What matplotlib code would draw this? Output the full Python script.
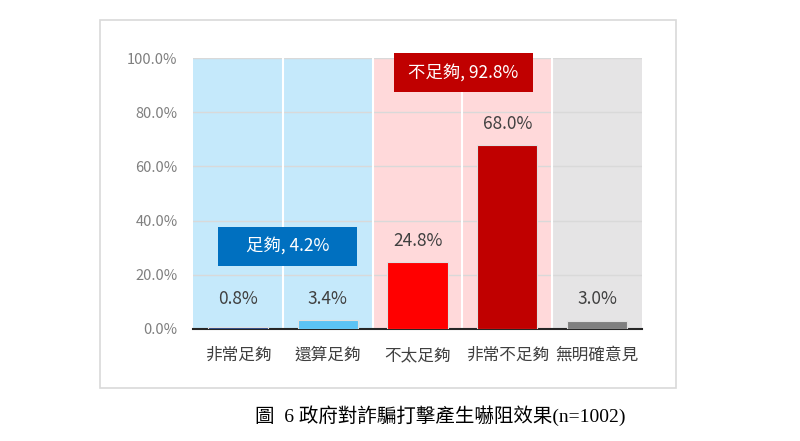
import matplotlib
matplotlib.use("Agg")
import matplotlib.pyplot as plt
from matplotlib.patches import Rectangle

plt.rcParams['font.family'] = ['Noto Sans CJK TC', 'DejaVu Sans']

categories = ["非常足夠", "還算足夠", "不太足夠", "非常不足夠", "無明確意見"]
values = [0.8, 3.4, 24.8, 68.0, 3.0]
bar_colors = ["#1F3F7F", "#5CC3F5", "#FF0000", "#C00000", "#7F7F7F"]
band_colors = ["#C5E9FB", "#C5E9FB", "#FFD9DA", "#FFD9DA", "#E5E4E5"]
group_labels = ["足夠, 4.2%", "不足夠, 92.8%"]
group_pos = [(0.55, 30.6), (2.51, 94.5)]
group_colors = ["#0070C0", "#C00000"]
caption = "圖  6 政府對詐騙打擊產生嚇阻效果(n=1002)"

fig = plt.figure(figsize=(8, 4.41), dpi=100)
ax = fig.add_axes([193/800, 1 - 329/441, (642-193)/800, (329-58)/441])

# outer frame
fig.patches.append(Rectangle((100/800, 1 - 388/441), 576/800, 368/441,
                             transform=fig.transFigure, fill=False,
                             edgecolor="#D9D9D9", linewidth=1.2))

x = list(range(len(categories)))
for i, c in enumerate(band_colors):
    ax.axvspan(i - 0.5, i + 0.5, color=c, zorder=0, linewidth=0)
for i in range(1, len(categories)):
    ax.axvline(i - 0.5, color="white", linewidth=1.5, zorder=1)

ax.set_ylim(0, 100)
ax.set_xlim(-0.5, len(categories) - 0.5)
ax.set_yticks(range(0, 101, 20))
ax.set_yticklabels([f"{v:.1f}%" for v in range(0, 101, 20)])
ax.grid(axis="y", color="#D9D9D9", linewidth=1, zorder=0.5)
ax.set_axisbelow(True)

ax.bar(x, values, width=0.67, color=bar_colors, zorder=2,
       edgecolor="#E0E0E0", linewidth=0.8)
for xi, v in zip(x, values):
    ax.text(xi, max(v, 3.4) + 4.5, f"{v:.1f}%", ha="center", va="bottom",
            fontsize=12.5, color="#404040", zorder=3)

# group summary boxes (139 x 39 px)
bw, bh = 139 / 89.8, 39 / 2.71
for (gx, gy), lab, col in zip(group_pos, group_labels, group_colors):
    ax.add_patch(Rectangle((gx - bw/2, gy - bh/2), bw, bh, facecolor=col,
                           edgecolor="none", zorder=4, clip_on=False))
    ax.text(gx, gy, lab, ha="center", va="center", fontsize=12.5, color="white",
            zorder=5)

ax.set_xticks(x)
ax.set_xticklabels(categories, fontsize=12, color="#404040")
ax.tick_params(axis="y", labelsize=10.5, colors="#7F7F7F", length=0, pad=11)
ax.tick_params(axis="x", length=0, pad=13)
for s in ["top", "right", "left"]:
    ax.spines[s].set_visible(False)
ax.spines["bottom"].set_color("#262626")
ax.spines["bottom"].set_linewidth(1.5)
ax.spines["bottom"].set_zorder(1.5)

fig.text(440/800, 1 - 416/441, caption, ha="center", va="center", fontsize=14,
         family=["Liberation Serif", "Noto Sans CJK TC"], color="black")

fig.savefig("out.png", dpi=100)
